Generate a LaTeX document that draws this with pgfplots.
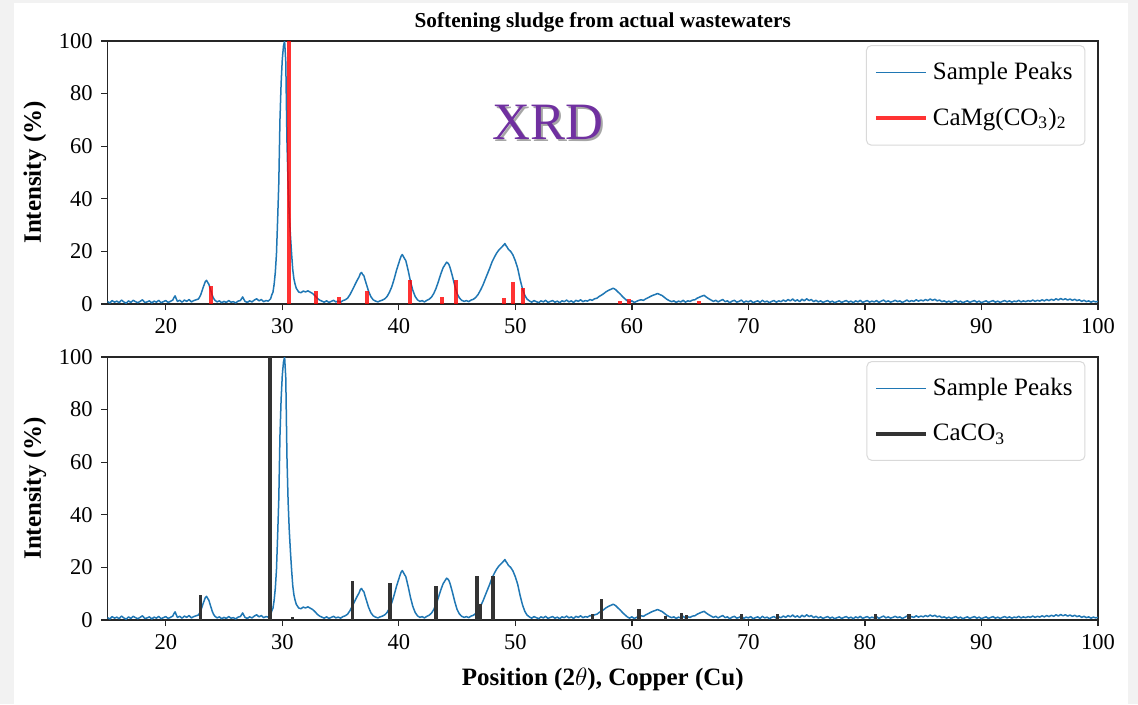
\documentclass[border=0pt]{standalone}
\usepackage{fontspec}
\setmainfont{Liberation Serif}
\usepackage{pgfplots}
\pgfplotsset{compat=1.18}
\usepackage{pgfplotstable}
\definecolor{mplblue}{RGB}{31,119,180}
\definecolor{xrdpurple}{RGB}{112,48,160}
\definecolor{bargray}{RGB}{51,51,51}
\definecolor{framegray}{RGB}{242,242,242}

\pgfplotstableread{
x y
15.0 0.9
15.2 0.4
15.4 1.3
15.6 0.7
15.8 1.1
16.0 0.5
16.2 1.5
16.4 0.8
16.6 0.3
16.8 1.2
17.0 0.6
17.2 1.4
17.4 0.9
17.6 0.5
17.8 1.0
18.0 1.6
18.2 0.6
18.4 0.8
18.6 1.2
18.8 0.4
19.0 1.1
19.2 0.7
19.4 1.4
19.6 0.5
19.8 0.9
20.0 1.3
20.2 0.6
20.4 1.0
20.6 1.5
20.7 2.4
20.8 3.1
20.9 2.0
21.0 1.0
21.2 1.4
21.4 0.7
21.6 1.5
21.8 1.0
22.0 1.7
22.2 0.8
22.4 1.3
22.6 1.6
22.8 1.9
22.9 2.6
23.0 3.5
23.1 4.8
23.2 6.2
23.3 7.4
23.4 8.6
23.5 9.0
23.6 8.2
23.7 7.5
23.8 6.0
23.9 4.6
24.0 3.2
24.1 2.2
24.2 1.5
24.4 0.8
24.6 1.2
24.8 0.5
25.0 1.0
25.2 0.6
25.4 1.3
25.6 0.7
25.8 0.9
26.0 0.4
26.2 1.1
26.4 1.3
26.5 2.0
26.6 2.7
26.7 1.8
26.8 1.0
27.0 0.6
27.2 1.2
27.4 0.8
27.6 1.5
27.8 2.0
28.0 1.2
28.2 1.7
28.4 0.9
28.6 1.3
28.8 1.1
29.0 2.0
29.1 3.5
29.2 4.5
29.3 7.5
29.4 12
29.5 19
29.6 32
29.7 46
29.8 70
29.9 84
30.0 93
30.1 98
30.2 100
30.3 92
30.4 62
30.5 45
30.6 34
30.7 26
30.8 19
30.9 13
31.0 9.5
31.1 7.5
31.2 6.0
31.4 4.6
31.6 4.3
31.8 4.9
32.0 4.6
32.2 5.0
32.4 4.5
32.6 4.0
32.8 3.2
33.0 2.2
33.2 1.5
33.4 1.1
33.6 0.7
33.8 1.2
34.0 0.6
34.2 1.0
34.4 1.4
34.6 0.8
34.8 1.1
35.0 0.7
35.2 1.3
35.4 1.6
35.6 2.2
35.8 3.5
36.0 5.2
36.2 7.0
36.4 8.8
36.6 10.4
36.7 11.6
36.8 12.0
36.9 11.2
37.0 10.8
37.1 9.2
37.2 7.8
37.4 4.9
37.6 2.8
37.8 1.6
38.0 1.1
38.2 0.8
38.4 1.2
38.6 1.5
38.8 2.0
39.0 2.9
39.2 4.5
39.4 6.6
39.6 9.5
39.8 12.8
40.0 15.6
40.1 17.0
40.2 18.2
40.3 18.8
40.4 18.0
40.5 17.2
40.6 16.5
40.8 12.8
41.0 8.6
41.2 5.2
41.4 2.9
41.6 1.6
41.8 1.0
42.0 1.3
42.2 0.8
42.4 1.4
42.6 1.8
42.8 2.6
43.0 4.0
43.2 6.0
43.4 8.6
43.6 11.4
43.8 13.8
44.0 15.2
44.1 15.9
44.2 15.6
44.3 15.0
44.4 13.8
44.6 10.6
44.8 7.0
45.0 4.0
45.2 2.3
45.4 1.4
45.6 1.0
45.8 1.3
46.0 0.9
46.2 1.5
46.4 1.8
46.6 2.5
46.8 3.6
47.0 5.2
47.2 7.0
47.4 9.2
47.6 11.4
47.8 13.6
48.0 16.0
48.2 17.8
48.4 19.4
48.6 20.6
48.8 21.5
49.0 22.4
49.1 23.0
49.2 22.2
49.3 21.6
49.4 20.8
49.6 20.0
49.8 18.6
50.0 16.4
50.2 13.6
50.4 9.5
50.6 6.0
50.8 3.4
51.0 1.9
51.2 1.2
51.4 0.7
51.6 1.3
51.8 0.9
52.0 0.5
52.2 1.2
52.4 0.8
52.6 1.4
52.8 0.6
53.0 1.0
53.2 1.3
53.4 0.7
53.6 1.1
53.8 0.5
54.0 1.2
54.2 0.9
54.4 1.5
54.6 0.8
54.8 1.2
55.0 0.6
55.2 1.4
55.4 1.0
55.6 1.6
55.8 0.9
56.0 1.3
56.2 1.1
56.4 1.7
56.6 1.4
56.8 2.0
57.0 2.2
57.2 2.9
57.4 3.4
57.6 4.0
57.8 4.7
58.0 5.2
58.2 5.6
58.4 6.0
58.6 5.5
58.8 4.6
59.0 3.8
59.2 2.8
59.4 2.0
59.6 1.2
59.8 0.7
60.0 1.2
60.2 0.6
60.4 1.0
60.6 1.4
60.8 1.6
61.0 1.4
61.2 2.0
61.4 2.4
61.6 2.9
61.8 3.3
62.0 3.6
62.2 4.0
62.4 3.6
62.6 3.2
62.8 2.5
63.0 1.8
63.2 1.3
63.4 0.9
63.6 1.2
63.8 0.6
64.0 1.1
64.2 0.8
64.4 1.4
64.6 0.7
64.8 1.2
65.0 1.0
65.2 1.5
65.4 1.6
65.6 2.2
65.8 2.6
66.0 3.0
66.2 3.3
66.4 2.6
66.6 2.0
66.8 1.5
67.0 1.0
67.2 1.4
67.4 0.8
67.6 1.3
67.8 1.7
68.0 0.9
68.2 1.2
68.4 0.5
68.6 1.1
68.8 1.4
69.0 0.7
69.2 1.0
69.4 1.5
69.6 0.6
69.8 1.1
70.0 0.8
70.2 1.3
70.4 0.5
70.6 0.9
70.8 1.2
71.0 0.6
71.2 1.4
71.4 0.8
71.6 1.1
71.8 0.5
72.0 1.0
72.2 1.3
72.4 0.7
72.6 1.2
72.8 0.9
73.0 1.5
73.2 1.0
73.4 1.7
73.6 1.2
73.8 1.9
74.0 1.1
74.2 1.6
74.4 0.9
74.6 1.8
74.8 1.2
75.0 2.0
75.2 1.3
75.4 1.7
75.6 0.9
75.8 1.4
76.0 0.8
76.2 1.2
76.4 0.6
76.6 1.0
76.8 1.3
77.0 0.7
77.2 1.1
77.4 0.5
77.6 0.9
77.8 1.2
78.0 0.6
78.2 1.0
78.4 1.3
78.6 0.7
78.8 1.1
79.0 0.5
79.2 1.2
79.4 0.8
79.6 1.4
79.8 0.6
80.0 1.0
80.2 1.3
80.4 0.7
80.6 1.1
80.8 0.8
81.0 1.3
81.2 0.6
81.4 1.1
81.6 1.5
81.8 0.8
82.0 1.2
82.2 0.7
82.4 1.0
82.6 1.4
82.8 0.9
83.0 1.2
83.2 0.6
83.4 1.0
83.6 1.5
83.8 0.9
84.0 1.3
84.2 1.0
84.4 1.6
84.6 1.1
84.8 1.5
85.0 1.2
85.2 1.7
85.4 1.3
85.6 1.9
85.8 1.4
86.0 1.8
86.2 1.2
86.4 1.5
86.6 0.9
86.8 1.2
87.0 0.7
87.2 1.1
87.4 0.6
87.6 1.0
87.8 1.3
88.0 0.7
88.2 1.1
88.4 0.5
88.6 0.9
88.8 1.2
89.0 0.6
89.2 1.0
89.4 1.3
89.6 0.7
89.8 1.1
90.0 0.5
90.2 0.9
90.4 1.2
90.6 0.6
90.8 1.0
91.0 1.3
91.2 0.7
91.4 1.1
91.6 0.6
91.8 1.0
92.0 1.3
92.2 0.8
92.4 1.2
92.6 0.7
92.8 1.1
93.0 0.9
93.2 1.4
93.4 0.8
93.6 1.2
93.8 0.9
94.0 1.3
94.2 1.0
94.4 1.5
94.6 1.0
94.8 1.4
95.0 1.1
95.2 1.6
95.4 1.2
95.6 1.7
95.8 1.3
96.0 1.8
96.2 1.4
96.4 2.0
96.6 1.5
96.8 2.1
97.0 1.6
97.2 2.0
97.4 1.5
97.6 1.9
97.8 1.4
98.0 1.8
98.2 1.3
98.4 1.6
98.6 1.0
98.8 1.4
99.0 0.9
99.2 1.2
99.4 0.7
99.6 1.1
99.8 0.8
100.0 1.0
}\sample

\pgfplotstableread{
x y
23.86 6.8
30.57 100
32.90 5.0
34.85 2.8
37.28 5.0
40.95 9.1
43.70 2.8
44.90 9.1
49.00 2.2
49.76 8.2
50.67 6.2
58.96 1.0
59.76 1.8
65.80 1.0
}\dolomite

\pgfplotstableread{
x y
22.98 9.5
28.95 100
30.87 1.3
36.02 15.0
39.23 14.2
43.20 12.9
46.72 16.9
47.01 6.1
48.10 16.9
56.60 2.2
57.40 8.0
60.60 4.0
62.90 1.5
64.26 2.8
64.70 1.9
69.40 2.2
72.50 2.2
80.90 2.2
83.80 2.2
}\calcite

\pgfplotsset{
  common/.style={
    width=396.2pt, height=105.2pt, scale only axis,
    xmin=15, xmax=100, ymin=0, ymax=100,
    xtick={20,30,...,100}, ytick={0,20,...,100},
    tick pos=left, tick align=outside, major tick length=2.4pt,
    tick style={black!85, line width=0.5pt},
    axis line style={black!85, line width=0.5pt},
    ticklabel style={font=\fontsize{9}{10}\selectfont},
    /pgf/number format/assume math mode=true,
    ylabel={Intensity (\%)},
    ylabel style={at={(axis description cs:-0.0732,0.5)}, anchor=center,
      font=\bfseries\fontsize{10}{12}\selectfont},
    legend style={at={(axis description cs:1,1)}, anchor=north east,
      xshift=-5pt, yshift=-1.6pt, draw=black!15, rounded corners=2pt,
      fill=white, font=\fontsize{10}{12}\selectfont,
      inner xsep=3pt, inner ysep=4.5pt, row sep=6pt},
    legend cell align=left,
    legend image code/.code={\draw[#1] (0pt,0pt) -- (20pt,0pt);},
  },
  sampleline/.style={mplblue, line width=0.6pt, no markers, line join=round},
}

\begin{document}
\begin{tikzpicture}
\useasboundingbox (0,0) rectangle (455.2pt,-281.6pt);
\fill[framegray] (0,0) rectangle (455.2pt,-281.6pt);
\fill[white] (5.6pt,-1.2pt) rectangle (451.2pt,-281.6pt);

\begin{axis}[common, at={(43pt,-121.6pt)}, anchor=south west,
  every axis title shift=0pt,
  title={Softening sludge from actual wastewaters},
  title style={font=\bfseries\fontsize{8.5}{10}\selectfont,
    at={(axis description cs:0.5,1)}, anchor=base, yshift=5.6pt}]
\addplot[sampleline] table[x=x,y=y]{\sample};
\addlegendentry{Sample Peaks}
\addplot[ycomb, red, opacity=0.8, line width=1.6pt, no markers] table[x=x,y=y]{\dolomite};
\addlegendentry{CaMg(CO\textsubscript{3})\textsubscript{2}}
\node[black!35, font=\fontsize{21}{24}\selectfont] at (axis cs:52.8,69) [xshift=0.8pt, yshift=-0.8pt] {XRD};
\node[xrdpurple, font=\fontsize{21}{24}\selectfont] at (axis cs:52.8,69) {XRD};
\end{axis}

\begin{axis}[common, at={(43pt,-248pt)}, anchor=south west,
  xlabel={Position (2$\theta$), Copper (Cu)},
  xlabel style={font=\bfseries\fontsize{10}{12}\selectfont,
    at={(axis description cs:0.5,-0.228)}, anchor=center}]
\addplot[sampleline] table[x=x,y=y]{\sample};
\addlegendentry{Sample Peaks}
\addplot[ycomb, bargray, line width=1.4pt, no markers] table[x=x,y=y]{\calcite};
\addlegendentry{CaCO\textsubscript{3}}
\end{axis}
\end{tikzpicture}
\end{document}
